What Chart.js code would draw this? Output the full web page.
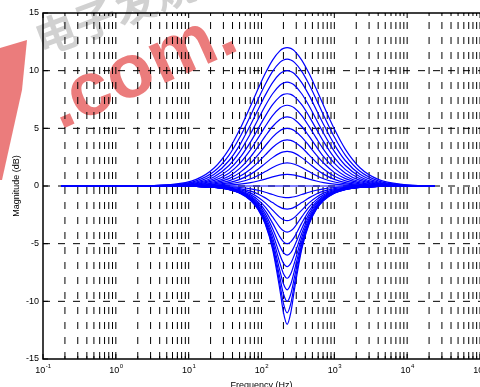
<!DOCTYPE html>
<html><head><meta charset="utf-8">
<script src="https://cdn.jsdelivr.net/npm/chart.js@4.4.1/dist/chart.umd.min.js"></script>
<style>html,body{margin:0;padding:0;background:#fff}#wrap{width:480px;height:387px;position:relative}</style>
</head><body><div id="wrap"><canvas id="c" width="480" height="387"></canvas></div>
<script>
// Frequency grid (Hz) of the sampled response points
const freqHz = [0.18, 1.42, 5.65, 12.7, 22.5, 35.7, 50.4, 71.2, 89.6, 112.8, 142, 178.7, 200.5, 225, 252.4, 283.3, 356.6, 448.9, 565.2, 711.5, 1005, 1420, 2250, 4000, 8960, 24000];
// Magnitude (dB) of each curve (gain +12 ... -12 dB)
const gP12 = [0, 0.01, 0.12, 0.57, 1.58, 3.18, 4.92, 6.98, 8.41, 9.77, 10.92, 11.72, 11.93, 12, 11.93, 11.72, 10.92, 9.77, 8.41, 6.98, 4.92, 3.18, 1.58, 0.57, 0.12, 0];
const gP11 = [0, 0.01, 0.09, 0.45, 1.28, 2.66, 4.22, 6.14, 7.51, 8.82, 9.94, 10.72, 10.93, 11, 10.93, 10.72, 9.94, 8.82, 7.51, 6.14, 4.22, 2.66, 1.28, 0.45, 0.09, 0];
const gP10 = [0, 0.01, 0.07, 0.35, 1.02, 2.19, 3.57, 5.34, 6.62, 7.88, 8.97, 9.73, 9.93, 10, 9.93, 9.73, 8.97, 7.88, 6.62, 5.34, 3.57, 2.19, 1.02, 0.35, 0.07, 0];
const gP9 = [0, 0.01, 0.06, 0.27, 0.81, 1.78, 2.98, 4.57, 5.77, 6.96, 8.00, 8.74, 8.93, 9, 8.93, 8.74, 8.00, 6.96, 5.77, 4.57, 2.98, 1.78, 0.81, 0.27, 0.06, 0];
const gP8 = [0, 0.01, 0.04, 0.21, 0.63, 1.42, 2.44, 3.85, 4.94, 6.06, 7.05, 7.75, 7.94, 8, 7.94, 7.75, 7.05, 6.06, 4.94, 3.85, 2.44, 1.42, 0.63, 0.21, 0.04, 0];
const gP7 = [0, 0, 0.03, 0.16, 0.49, 1.11, 1.96, 3.18, 4.15, 5.17, 6.10, 6.76, 6.94, 7, 6.94, 6.76, 6.10, 5.17, 4.15, 3.18, 1.96, 1.11, 0.49, 0.16, 0.03, 0];
const gP6 = [0, 0, 0.02, 0.12, 0.37, 0.85, 1.53, 2.55, 3.41, 4.32, 5.16, 5.77, 5.94, 6, 5.94, 5.77, 5.16, 4.32, 3.41, 2.55, 1.53, 0.85, 0.37, 0.12, 0.02, 0];
const gP5 = [0, 0, 0.02, 0.09, 0.27, 0.64, 1.16, 1.99, 2.70, 3.49, 4.24, 4.79, 4.95, 5, 4.95, 4.79, 4.24, 3.49, 2.70, 1.99, 1.16, 0.64, 0.27, 0.09, 0.02, 0];
const gP4 = [0, 0, 0.01, 0.06, 0.19, 0.45, 0.84, 1.48, 2.05, 2.70, 3.34, 3.82, 3.95, 4, 3.95, 3.82, 3.34, 2.70, 2.05, 1.48, 0.84, 0.45, 0.19, 0.06, 0.01, 0];
const gP3 = [0, 0, 0.01, 0.04, 0.13, 0.30, 0.57, 1.03, 1.45, 1.96, 2.46, 2.85, 2.96, 3, 2.96, 2.85, 2.46, 1.96, 1.45, 1.03, 0.57, 0.30, 0.13, 0.04, 0.01, 0];
const gP2 = [0, 0, 0, 0.02, 0.07, 0.18, 0.35, 0.63, 0.91, 1.25, 1.61, 1.89, 1.97, 2, 1.97, 1.89, 1.61, 1.25, 0.91, 0.63, 0.35, 0.18, 0.07, 0.02, 0, 0];
const gP1 = [0, 0, 0, 0.01, 0.03, 0.08, 0.16, 0.29, 0.43, 0.60, 0.79, 0.94, 0.98, 1, 0.98, 0.94, 0.79, 0.60, 0.43, 0.29, 0.16, 0.08, 0.03, 0.01, 0, 0];
const g0 = [0, 0, 0, 0, 0, 0, 0, 0, 0, 0, 0, 0, 0, 0, 0, 0, 0, 0, 0, 0, 0, 0, 0, 0, 0, 0];
const gM1 = [0, 0, 0, -0.01, -0.03, -0.07, -0.13, -0.25, -0.37, -0.54, -0.74, -0.93, -0.98, -1, -0.98, -0.93, -0.74, -0.54, -0.37, -0.25, -0.13, -0.07, -0.03, -0.01, 0, 0];
const gM2 = [0, 0, 0, -0.02, -0.05, -0.12, -0.23, -0.45, -0.69, -1.03, -1.44, -1.83, -1.96, -2, -1.96, -1.83, -1.44, -1.03, -0.69, -0.45, -0.23, -0.12, -0.05, -0.02, 0, 0];
const gM3 = [0, 0, 0, -0.02, -0.06, -0.16, -0.32, -0.62, -0.97, -1.46, -2.09, -2.72, -2.92, -3, -2.92, -2.72, -2.09, -1.46, -0.97, -0.62, -0.32, -0.16, -0.06, -0.02, 0, 0];
const gM4 = [0, 0, -0.01, -0.02, -0.08, -0.20, -0.39, -0.77, -1.20, -1.83, -2.68, -3.58, -3.89, -4, -3.89, -3.58, -2.68, -1.83, -1.20, -0.77, -0.39, -0.20, -0.08, -0.02, -0.01, 0];
const gM5 = [0, 0, -0.01, -0.03, -0.09, -0.22, -0.44, -0.88, -1.39, -2.15, -3.22, -4.41, -4.84, -5, -4.84, -4.41, -3.22, -2.15, -1.39, -0.88, -0.44, -0.22, -0.09, -0.03, -0.01, 0];
const gM6 = [0, 0, -0.01, -0.03, -0.10, -0.24, -0.49, -0.98, -1.54, -2.42, -3.70, -5.20, -5.78, -6, -5.78, -5.20, -3.70, -2.42, -1.54, -0.98, -0.49, -0.24, -0.10, -0.03, -0.01, 0];
const gM7 = [0, 0, -0.01, -0.03, -0.10, -0.26, -0.52, -1.05, -1.67, -2.65, -4.12, -5.96, -6.70, -7, -6.70, -5.96, -4.12, -2.65, -1.67, -1.05, -0.52, -0.26, -0.10, -0.03, -0.01, 0];
const gM8 = [0, 0, -0.01, -0.03, -0.11, -0.28, -0.55, -1.11, -1.78, -2.85, -4.49, -6.67, -7.61, -8, -7.61, -6.67, -4.49, -2.85, -1.78, -1.11, -0.55, -0.28, -0.11, -0.03, -0.01, 0];
const gM9 = [0, 0, -0.01, -0.04, -0.11, -0.29, -0.57, -1.16, -1.87, -3.00, -4.80, -7.33, -8.50, -9, -8.50, -7.33, -4.80, -3.00, -1.87, -1.16, -0.57, -0.29, -0.11, -0.04, -0.01, 0];
const gM10 = [0, 0, -0.01, -0.04, -0.12, -0.29, -0.59, -1.20, -1.94, -3.13, -5.07, -7.93, -9.36, -10, -9.36, -7.93, -5.07, -3.13, -1.94, -1.20, -0.59, -0.29, -0.12, -0.04, -0.01, 0];
const gM11 = [0, 0, -0.01, -0.04, -0.12, -0.30, -0.61, -1.23, -1.99, -3.24, -5.30, -8.49, -10.20, -11, -10.20, -8.49, -5.30, -3.24, -1.99, -1.23, -0.61, -0.30, -0.12, -0.04, -0.01, 0];
const gM12 = [0, 0, -0.01, -0.04, -0.12, -0.31, -0.62, -1.26, -2.04, -3.33, -5.49, -8.98, -10.99, -12, -10.99, -8.98, -5.49, -3.33, -2.04, -1.26, -0.62, -0.31, -0.12, -0.04, -0.01, 0];
const curves = [gP12, gP11, gP10, gP9, gP8, gP7, gP6, gP5, gP4, gP3, gP2, gP1, g0, gM1, gM2, gM3, gM4, gM5, gM6, gM7, gM8, gM9, gM10, gM11, gM12];

// Axis ticks
const xExponents = [-1, 0, 1, 2, 3, 4, 5];
const yTicks = [-15, -10, -5, 0, 5, 10, 15];
const yTickLabels = ['-15', '-10', '-5', '0', '5', '10', '15'];
const xMinorMultipliers = [2, 3, 4, 5, 6, 7, 8, 9];
const xTitle = 'Frequency (Hz)';
const yTitle = 'Magnitude (dB)';

const FONT = '"Liberation Sans", Arial, Helvetica, sans-serif';

const watermark = {
  id: 'watermark',
  beforeDraw(chart) {
    const ctx = chart.ctx;
    ctx.save();
    ctx.fillStyle = '#fff';
    ctx.fillRect(0, 0, chart.width, chart.height);
    // grey CJK watermark
    ctx.save();
    ctx.translate(42, 56);
    ctx.rotate(-0.36);
    ctx.fillStyle = 'rgba(140,140,140,0.4)';
    ctx.font = 'bold 42px "Noto Sans CJK SC"';
    ctx.fillText('电子发烧友', 0, 0);
    ctx.restore();
    // red band at left
    ctx.fillStyle = 'rgba(228,80,80,0.75)';
    ctx.beginPath();
    ctx.moveTo(0, 48); ctx.lineTo(27, 40); ctx.lineTo(22, 90); ctx.lineTo(2, 180); ctx.lineTo(0, 180);
    ctx.closePath(); ctx.fill();
    // red .com text
    ctx.save();
    ctx.translate(60, 130);
    ctx.rotate(-0.42);
    ctx.fillStyle = 'rgba(228,80,80,0.75)';
    ctx.font = 'bold 76px ' + FONT;
    ctx.fillText('.com.', 0, 0);
    ctx.restore();
    ctx.restore();
  }
};

const axesDeco = {
  id: 'axesDeco',
  beforeDatasetsDraw(chart) {
    const ctx = chart.ctx, xs = chart.scales.x, ys = chart.scales.y, a = chart.chartArea;
    ctx.save();
    ctx.strokeStyle = '#000';
    ctx.lineWidth = 1;
    ctx.setLineDash([7, 8]);
    // vertical grid (major + minor decades)
    for (let i = 0; i < xExponents.length; i++) {
      const dec = Math.pow(10, xExponents[i]);
      const vals = [dec];
      if (i < xExponents.length - 1) xMinorMultipliers.forEach(m => vals.push(m * dec));
      vals.forEach(v => {
        const px = xs.getPixelForValue(v);
        if (px <= a.left + 0.5 || px > a.right) return;
        ctx.beginPath(); ctx.moveTo(px, a.bottom); ctx.lineTo(px, a.top); ctx.stroke();
      });
    }
    // horizontal grid
    yTicks.forEach(v => {
      const py = ys.getPixelForValue(v);
      if (py <= a.top + 0.5 || py >= a.bottom - 0.5) return;
      ctx.beginPath(); ctx.moveTo(a.left, py); ctx.lineTo(a.right, py); ctx.stroke();
    });
    ctx.restore();
  },
  afterDatasetsDraw(chart) {
    const ctx = chart.ctx, xs = chart.scales.x, ys = chart.scales.y, a = chart.chartArea;
    ctx.save();
    ctx.strokeStyle = '#000';
    ctx.setLineDash([]);
    ctx.lineWidth = 1;
    // ticks
    for (let i = 0; i < xExponents.length; i++) {
      const dec = Math.pow(10, xExponents[i]);
      const items = [[dec, 5]];
      if (i < xExponents.length - 1) xMinorMultipliers.forEach(m => items.push([m * dec, 3]));
      items.forEach(([v, len]) => {
        const px = xs.getPixelForValue(v);
        ctx.beginPath(); ctx.moveTo(px, a.bottom); ctx.lineTo(px, a.bottom - len);
        ctx.moveTo(px, a.top); ctx.lineTo(px, a.top + len); ctx.stroke();
      });
    }
    yTicks.forEach(v => {
      const py = ys.getPixelForValue(v);
      ctx.beginPath(); ctx.moveTo(a.left, py); ctx.lineTo(a.left + 5, py); ctx.stroke();
    });
    // box
    ctx.lineWidth = 1.5;
    ctx.beginPath();
    ctx.moveTo(a.right + 1, a.top); ctx.lineTo(a.left, a.top); ctx.lineTo(a.left, a.bottom); ctx.lineTo(a.right + 1, a.bottom);
    ctx.stroke();
    // y tick labels
    ctx.fillStyle = '#000';
    ctx.font = '9px ' + FONT;
    ctx.textAlign = 'right';
    ctx.textBaseline = 'middle';
    yTicks.forEach((v, i) => {
      ctx.fillText(yTickLabels[i], a.left - 4, ys.getPixelForValue(v));
    });
    // x tick labels 10^n
    ctx.textBaseline = 'alphabetic';
    xExponents.forEach(e => {
      const px = xs.getPixelForValue(Math.pow(10, e));
      ctx.font = '9px ' + FONT;
      const wBase = ctx.measureText('10').width;
      ctx.font = '6px ' + FONT;
      const sup = String(e);
      const wSup = ctx.measureText(sup).width;
      const x0 = px - (wBase + wSup) / 2;
      ctx.textAlign = 'left';
      ctx.font = '9px ' + FONT;
      ctx.fillText('10', x0, 373);
      ctx.font = '6px ' + FONT;
      ctx.fillText(sup, x0 + wBase + 0.5, 368);
    });
    // titles
    ctx.font = '9px ' + FONT;
    ctx.textAlign = 'center';
    ctx.fillText(xTitle, (a.left + a.right) / 2, 388);
    ctx.save();
    ctx.translate(19, (a.top + a.bottom) / 2);
    ctx.rotate(-Math.PI / 2);
    ctx.textBaseline = 'alphabetic';
    ctx.fillText(yTitle, 0, 0);
    ctx.restore();
    ctx.restore();
  }
};

new Chart(document.getElementById('c'), {
  type: 'line',
  data: {
    datasets: curves.map(c => ({
      data: freqHz.map((f, i) => ({ x: f, y: c[i] })),
      borderColor: '#0000ff',
      borderWidth: 1.2,
      pointRadius: 0,
      fill: false,
      cubicInterpolationMode: 'monotone'
    }))
  },
  options: {
    responsive: false,
    animation: false,
    devicePixelRatio: 1,
    layout: { padding: { left: 43, right: 0, top: 13, bottom: 28 } },
    plugins: { legend: { display: false }, tooltip: { enabled: false } },
    scales: {
      x: { type: 'logarithmic', min: 0.1, max: 100000, display: false },
      y: { type: 'linear', min: -15, max: 15, display: false }
    }
  },
  plugins: [watermark, axesDeco]
});
</script>
</body></html>
